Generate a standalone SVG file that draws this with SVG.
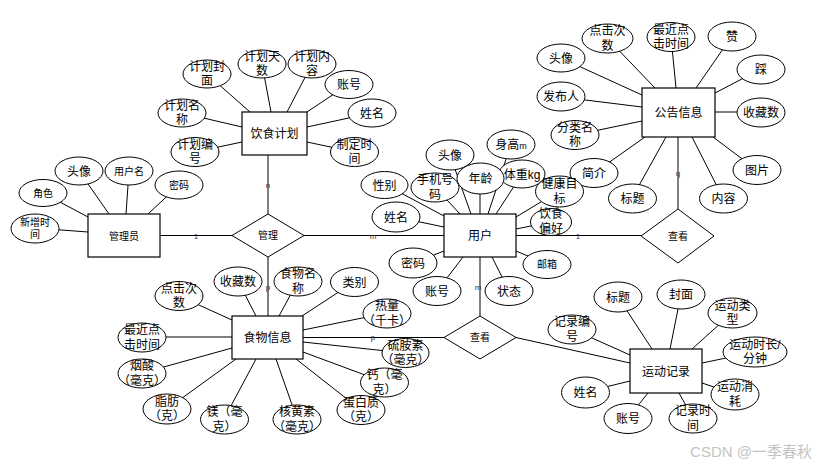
<svg xmlns="http://www.w3.org/2000/svg" width="824" height="467" viewBox="0 0 824 467">
<style>
text{font-family:"Liberation Sans","Noto Sans CJK SC",sans-serif;fill:#000;text-anchor:middle}
.a{font-size:12px}
.s{font-size:10px}
.e{font-size:12px}
.lb{font-size:8px;fill:#333}
ellipse{fill:#fff;stroke:#000;stroke-width:1}
rect{fill:#fff;stroke:#000;stroke-width:1.2}
polygon{fill:#fff;stroke:#000;stroke-width:1}
line{stroke:#000;stroke-width:1}
.wm{font-size:15px;fill:#c4c4c4;text-anchor:end}
</style>
<rect x="0" y="0" width="824" height="467" style="fill:#fff;stroke:none"/>
<g id="connectors">
<line x1="268" y1="155" x2="268" y2="214"/>
<line x1="160" y1="235.5" x2="232" y2="235.5"/>
<line x1="304" y1="235.5" x2="444" y2="235.5"/>
<line x1="268" y1="257" x2="268" y2="316"/>
<line x1="516" y1="235.5" x2="641" y2="235.5"/>
<line x1="678" y1="137" x2="678" y2="209"/>
<line x1="480" y1="257" x2="480" y2="316"/>
<line x1="303" y1="337.5" x2="444" y2="337.5"/>
<line x1="516" y1="337.5" x2="630" y2="363"/>
<!-- diet plan attrs -->
<line x1="207" y1="74" x2="250" y2="112"/>
<line x1="262" y1="64" x2="271" y2="112"/>
<line x1="312" y1="64" x2="287" y2="112"/>
<line x1="349" y1="84" x2="307" y2="112"/>
<line x1="372" y1="113" x2="307" y2="127"/>
<line x1="354" y1="152" x2="307" y2="142"/>
<line x1="182" y1="113" x2="242" y2="127"/>
<line x1="195" y1="152" x2="242" y2="142"/>
<!-- admin attrs -->
<line x1="79" y1="171" x2="109" y2="214"/>
<line x1="129" y1="171" x2="126" y2="214"/>
<line x1="179" y1="185" x2="148" y2="214"/>
<line x1="43" y1="193" x2="88" y2="217"/>
<line x1="35" y1="228" x2="88" y2="232"/>
<!-- notice attrs -->
<line x1="607" y1="38" x2="655" y2="88"/>
<line x1="671" y1="37" x2="676" y2="88"/>
<line x1="732" y1="36" x2="696" y2="88"/>
<line x1="761" y1="69" x2="715" y2="93"/>
<line x1="761" y1="112" x2="715" y2="112"/>
<line x1="757" y1="170" x2="713" y2="137"/>
<line x1="723" y1="198" x2="692" y2="137"/>
<line x1="632" y1="198" x2="666" y2="137"/>
<line x1="594" y1="173" x2="645" y2="137"/>
<line x1="575" y1="135" x2="642" y2="121"/>
<line x1="561" y1="97" x2="642" y2="107"/>
<line x1="561" y1="58" x2="642" y2="95"/>
<!-- user attrs -->
<line x1="450" y1="155" x2="471" y2="214"/>
<line x1="480" y1="178" x2="480" y2="214"/>
<line x1="435" y1="187" x2="460" y2="214"/>
<line x1="511" y1="144" x2="488" y2="214"/>
<line x1="522" y1="174" x2="496" y2="214"/>
<line x1="559" y1="191" x2="516" y2="217"/>
<line x1="551" y1="222" x2="516" y2="229"/>
<line x1="384" y1="184" x2="444" y2="216"/>
<line x1="396" y1="217" x2="444" y2="227"/>
<line x1="413" y1="263" x2="444" y2="251"/>
<line x1="437" y1="291" x2="463" y2="257"/>
<line x1="509" y1="291" x2="492" y2="257"/>
<line x1="547" y1="264" x2="516" y2="251"/>
<!-- food attrs -->
<line x1="179" y1="296" x2="232" y2="320"/>
<line x1="238" y1="281" x2="256" y2="316"/>
<line x1="298" y1="281" x2="279" y2="316"/>
<line x1="354" y1="282" x2="302" y2="316"/>
<line x1="387" y1="313" x2="303" y2="330"/>
<line x1="405" y1="353" x2="303" y2="342"/>
<line x1="384" y1="382" x2="303" y2="352"/>
<line x1="361" y1="410" x2="296" y2="359"/>
<line x1="297" y1="419" x2="276" y2="359"/>
<line x1="224" y1="419" x2="256" y2="359"/>
<line x1="167" y1="409" x2="236" y2="359"/>
<line x1="142" y1="373" x2="232" y2="348"/>
<line x1="142" y1="337" x2="232" y2="337"/>
<!-- exercise attrs -->
<line x1="618" y1="297" x2="652" y2="349"/>
<line x1="681" y1="294" x2="670" y2="349"/>
<line x1="732" y1="313" x2="692" y2="349"/>
<line x1="755" y1="352" x2="702" y2="363"/>
<line x1="735" y1="394" x2="702" y2="383"/>
<line x1="693" y1="418" x2="679" y2="393"/>
<line x1="628" y1="418" x2="648" y2="393"/>
<line x1="585" y1="392" x2="630" y2="381"/>
<line x1="572" y1="329" x2="630" y2="355"/>
<text class="lb" x="268" y="188">n</text>
<text class="lb" x="196" y="239">1</text>
<text class="lb" x="373" y="239">m</text>
<text class="lb" x="268" y="290">p</text>
<text class="lb" x="578" y="239">1</text>
<text class="lb" x="678" y="176">q</text>
<text class="lb" x="478" y="290">m</text>
<text class="lb" x="373" y="340">p</text>
</g>

<g id="rel-manage"><polygon points="268,214 304,235.5 268,257 232,235.5"/><text class="s" x="268" y="239">管理</text></g>
<g id="rel-view1"><polygon points="678,209 714,236 678,263 641,236"/><text class="s" x="678" y="239.5">查看</text></g>
<g id="rel-view2"><polygon points="480,316 516,337.5 480,359 444,337.5"/><text class="s" x="480" y="341">查看</text></g>

<g id="diet-plan"><rect x="242" y="112" width="65" height="43"/><text class="e" x="274.5" y="138">饮食计划</text></g>
<g id="admin"><rect x="88" y="214" width="72" height="43"/><text class="s" x="124" y="239.5">管理员</text></g>
<g id="user"><rect x="444" y="214" width="72" height="43"/><text class="e" x="480" y="240">用户</text></g>
<g id="notice"><rect x="642" y="88" width="73" height="49"/><text class="e" x="678.5" y="117">公告信息</text></g>
<g id="food"><rect x="232" y="316" width="71" height="43"/><text class="e" x="267.5" y="342">食物信息</text></g>
<g id="exercise"><rect x="630" y="349" width="72" height="44"/><text class="e" x="666" y="375.5">运动记录</text></g>

<!-- diet plan attributes -->
<g id="dp-cover"><ellipse cx="207" cy="74" rx="24" ry="14"/><text class="a" x="207" y="70.5">计划封</text><text class="a" x="207" y="85">面</text></g>
<g id="dp-days"><ellipse cx="262" cy="64" rx="24" ry="14"/><text class="a" x="262" y="60.5">计划天</text><text class="a" x="262" y="75">数</text></g>
<g id="dp-content"><ellipse cx="312" cy="64" rx="24" ry="14"/><text class="a" x="312" y="60.5">计划内</text><text class="a" x="312" y="75">容</text></g>
<g id="dp-account"><ellipse cx="349" cy="84.5" rx="24" ry="14"/><text class="a" x="349" y="89">账号</text></g>
<g id="dp-name"><ellipse cx="372" cy="113" rx="24" ry="14"/><text class="a" x="372" y="117.5">姓名</text></g>
<g id="dp-time"><ellipse cx="354.5" cy="152" rx="24" ry="14.5"/><text class="a" x="354.5" y="148.5">制定时</text><text class="a" x="354.5" y="163">间</text></g>
<g id="dp-pname"><ellipse cx="182" cy="113" rx="24" ry="14"/><text class="a" x="182" y="109.5">计划名</text><text class="a" x="182" y="124">称</text></g>
<g id="dp-id"><ellipse cx="195" cy="152" rx="24" ry="14.5"/><text class="a" x="195" y="148.5">计划编</text><text class="a" x="195" y="163">号</text></g>

<!-- admin attributes -->
<g id="ad-avatar"><ellipse cx="79" cy="171" rx="24" ry="14"/><text class="a" x="79" y="175.5">头像</text></g>
<g id="ad-username"><ellipse cx="129" cy="171" rx="24" ry="14"/><text class="s" x="129" y="174.5">用户名</text></g>
<g id="ad-pwd"><ellipse cx="179" cy="185" rx="24" ry="14"/><text class="s" x="179" y="188.5">密码</text></g>
<g id="ad-role"><ellipse cx="43" cy="193" rx="24" ry="13.5"/><text class="s" x="43" y="196.5">角色</text></g>
<g id="ad-time"><ellipse cx="35" cy="228.5" rx="24" ry="14.5"/><text class="s" x="35" y="225.5">新增时</text><text class="s" x="35" y="238">间</text></g>

<!-- notice attributes -->
<g id="nt-clicks"><ellipse cx="607.5" cy="38.5" rx="25.5" ry="14.5"/><text class="a" x="607.5" y="35">点击次</text><text class="a" x="607.5" y="49.5">数</text></g>
<g id="nt-recent"><ellipse cx="671" cy="37" rx="24" ry="14.5"/><text class="a" x="671" y="33.5">最近点</text><text class="a" x="671" y="48">击时间</text></g>
<g id="nt-like"><ellipse cx="732" cy="36.5" rx="24" ry="14.5"/><text class="a" x="732" y="41">赞</text></g>
<g id="nt-dislike"><ellipse cx="761" cy="69.5" rx="24" ry="14.5"/><text class="a" x="761" y="74">踩</text></g>
<g id="nt-fav"><ellipse cx="761" cy="112.5" rx="24" ry="14.5"/><text class="a" x="761" y="117">收藏数</text></g>
<g id="nt-img"><ellipse cx="757" cy="170" rx="24" ry="14.5"/><text class="a" x="757" y="174.5">图片</text></g>
<g id="nt-content"><ellipse cx="723.5" cy="198.5" rx="24" ry="14.5"/><text class="a" x="723.5" y="203">内容</text></g>
<g id="nt-title"><ellipse cx="632.5" cy="198.5" rx="24" ry="14.5"/><text class="a" x="632.5" y="203">标题</text></g>
<g id="nt-intro"><ellipse cx="594" cy="173" rx="24" ry="14.5"/><text class="a" x="594" y="177.5">简介</text></g>
<g id="nt-cat"><ellipse cx="575" cy="135" rx="24" ry="14.5"/><text class="a" x="575" y="131.5">分类名</text><text class="a" x="575" y="146">称</text></g>
<g id="nt-publisher"><ellipse cx="561" cy="96.5" rx="24" ry="14.5"/><text class="a" x="561" y="101">发布人</text></g>
<g id="nt-avatar"><ellipse cx="561" cy="58" rx="24" ry="14"/><text class="a" x="561" y="62.5">头像</text></g>

<!-- user attributes -->
<g id="us-avatar"><ellipse cx="450" cy="155" rx="24" ry="15"/><text class="a" x="450" y="159.5">头像</text></g>
<g id="us-height"><ellipse cx="511" cy="144.5" rx="24" ry="14.5"/><text class="a" x="511" y="149">身高<tspan style="font-size:9px">m</tspan></text></g>
<g id="us-phone"><ellipse cx="435" cy="187.5" rx="24" ry="14.5"/><text class="a" x="435" y="184">手机号</text><text class="a" x="435" y="198.5">码</text></g>
<g id="us-weight"><ellipse cx="522" cy="174" rx="23" ry="14"/><text class="a" x="522" y="178.5">体重kg</text></g>
<g id="us-age"><ellipse cx="480.5" cy="178.5" rx="23.5" ry="15.5"/><text class="a" x="480.5" y="183">年龄</text></g>
<g id="us-goal"><ellipse cx="559.5" cy="191.5" rx="24" ry="15.5"/><text class="a" x="559.5" y="188">健康目</text><text class="a" x="559.5" y="202.5">标</text></g>
<g id="us-pref"><ellipse cx="551" cy="222" rx="20.5" ry="13.5"/><text class="a" x="551" y="218">饮食</text><text class="a" x="551" y="232.5">偏好</text></g>
<g id="us-gender"><ellipse cx="384.5" cy="185" rx="23.5" ry="13.5"/><text class="a" x="384.5" y="189.5">性别</text></g>
<g id="us-name"><ellipse cx="396" cy="217" rx="24" ry="15"/><text class="a" x="396" y="221.5">姓名</text></g>
<g id="us-pwd"><ellipse cx="413" cy="263" rx="24" ry="15"/><text class="a" x="413" y="267.5">密码</text></g>
<g id="us-account"><ellipse cx="437" cy="291" rx="24" ry="14.5"/><text class="a" x="437" y="295.5">账号</text></g>
<g id="us-status"><ellipse cx="509" cy="291" rx="24" ry="14.5"/><text class="a" x="509" y="295.5">状态</text></g>
<g id="us-email"><ellipse cx="547" cy="264.5" rx="24" ry="14"/><text class="s" x="547" y="268">邮箱</text></g>

<!-- food attributes -->
<g id="fd-clicks"><ellipse cx="179" cy="296" rx="24" ry="14.5"/><text class="a" x="179" y="292.5">点击次</text><text class="a" x="179" y="307">数</text></g>
<g id="fd-fav"><ellipse cx="238" cy="281.5" rx="24" ry="14.5"/><text class="a" x="238" y="286">收藏数</text></g>
<g id="fd-name"><ellipse cx="298" cy="281.5" rx="24" ry="14.5"/><text class="a" x="298" y="278">食物名</text><text class="a" x="298" y="292.5">称</text></g>
<g id="fd-cat"><ellipse cx="354.5" cy="282" rx="24" ry="14.5"/><text class="a" x="354.5" y="286.5">类别</text></g>
<g id="fd-kcal"><ellipse cx="387" cy="313.5" rx="24" ry="14.5"/><text class="a" x="387" y="310">热量</text><text class="a" x="387" y="324.5">（千卡）</text></g>
<g id="fd-thiamine"><ellipse cx="405.5" cy="353" rx="23.5" ry="14.5"/><text class="a" x="405.5" y="349.5">硫胺素</text><text class="a" x="405.5" y="364">（毫克）</text></g>
<g id="fd-ca"><ellipse cx="384.5" cy="382.5" rx="24" ry="14.5"/><text class="a" x="384.5" y="379">钙（毫</text><text class="a" x="384.5" y="393.5">克）</text></g>
<g id="fd-protein"><ellipse cx="361" cy="410" rx="24" ry="14.5"/><text class="a" x="361" y="406.5">蛋白质</text><text class="a" x="361" y="421">（克）</text></g>
<g id="fd-riboflavin"><ellipse cx="297" cy="419.5" rx="24" ry="14.5"/><text class="a" x="297" y="416">核黄素</text><text class="a" x="297" y="430.5">（毫克）</text></g>
<g id="fd-mg"><ellipse cx="224.5" cy="419.5" rx="24" ry="14.5"/><text class="a" x="224.5" y="416">镁（毫</text><text class="a" x="224.5" y="430.5">克）</text></g>
<g id="fd-fat"><ellipse cx="167" cy="409" rx="24" ry="15"/><text class="a" x="167" y="405.5">脂肪</text><text class="a" x="167" y="420">（克）</text></g>
<g id="fd-niacin"><ellipse cx="142" cy="373.5" rx="24" ry="14.5"/><text class="a" x="142" y="370">烟酸</text><text class="a" x="142" y="384.5">（毫克）</text></g>
<g id="fd-recent"><ellipse cx="142" cy="337.5" rx="24" ry="14.5"/><text class="a" x="142" y="334">最近点</text><text class="a" x="142" y="348.5">击时间</text></g>

<!-- exercise attributes -->
<g id="ex-title"><ellipse cx="618" cy="297" rx="24" ry="15"/><text class="a" x="618" y="301.5">标题</text></g>
<g id="ex-cover"><ellipse cx="681" cy="294.5" rx="24" ry="14.5"/><text class="a" x="681" y="299">封面</text></g>
<g id="ex-type"><ellipse cx="732.5" cy="313" rx="24.5" ry="15"/><text class="a" x="732.5" y="309.5">运动类</text><text class="a" x="732.5" y="324">型</text></g>
<g id="ex-duration"><ellipse cx="755" cy="352" rx="32" ry="15"/><text class="a" x="755" y="348.5">运动时长/</text><text class="a" x="755" y="363">分钟</text></g>
<g id="ex-burn"><ellipse cx="735" cy="394.5" rx="24" ry="15.5"/><text class="a" x="735" y="391">运动消</text><text class="a" x="735" y="405.5">耗</text></g>
<g id="ex-time"><ellipse cx="693" cy="418.5" rx="24" ry="14.5"/><text class="a" x="693" y="415">记录时</text><text class="a" x="693" y="429.5">间</text></g>
<g id="ex-account"><ellipse cx="628" cy="418.5" rx="24" ry="15"/><text class="a" x="628" y="423">账号</text></g>
<g id="ex-name"><ellipse cx="585.5" cy="392.5" rx="24" ry="15.5"/><text class="a" x="585.5" y="397">姓名</text></g>
<g id="ex-id"><ellipse cx="572" cy="329.5" rx="24" ry="14.5"/><text class="a" x="572" y="326">记录编</text><text class="a" x="572" y="340.5">号</text></g>

<text class="wm" x="812" y="457">CSDN @一季春秋</text>
</svg>
